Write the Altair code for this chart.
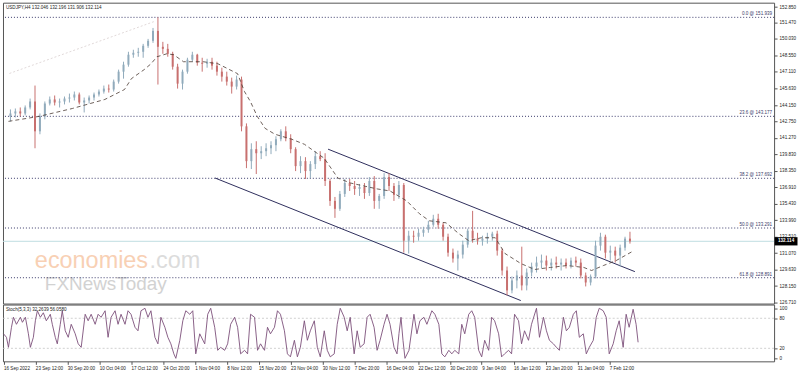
import altair as alt
import pandas as pd

FONT = "Liberation Sans"
TITLE = "USDJPY,H4 132.046 132.196 131.906 132.114"
STOCH_TITLE = "Stoch(5,3,3) 32.2639 56.0580"

# ---------------- price candles (5-bar groups of H4 bars) ----------------
opens = [143.17, 143.43, 143.61, 143.43, 143.96, 144.49, 141.85, 143.17, 144.31, 144.67,
         144.40, 144.49, 144.75, 144.84, 145.11, 144.40, 144.58, 144.84, 145.11, 145.37,
         145.63, 145.55, 146.25, 147.13, 147.75, 148.63, 148.80, 148.89, 149.42, 149.86,
         150.74, 149.33, 149.15, 148.71, 147.57, 146.07, 147.13, 148.19, 148.63, 147.92,
         147.83, 148.01, 147.66, 147.13, 146.69, 146.25, 145.81, 146.43, 142.29, 139.21,
         140.27, 139.91, 140.09, 140.35, 140.62, 141.15, 141.85, 141.23, 140.27, 138.77,
         139.21, 138.33, 138.95, 139.65, 139.39, 137.45, 135.69, 134.99, 136.31, 137.27,
         137.01, 136.75, 136.92, 136.39, 137.45, 135.69, 136.13, 137.80, 137.01, 136.22,
         137.10, 132.17, 132.61, 132.52, 132.87, 133.14, 133.58, 134.11, 133.58, 132.52,
         131.11, 130.59, 130.94, 131.82, 133.05, 132.35, 132.17, 132.35, 132.52, 132.79,
         131.29, 129.53, 127.77, 128.65, 129.09, 128.21, 129.35, 129.88, 130.23, 130.41,
         129.97, 130.23, 130.06, 130.23, 129.97, 130.41, 130.23, 129.09, 128.47, 129.00,
         131.73, 132.52, 131.11, 131.29, 130.85, 131.55, 132.35]
highs = [143.79, 143.87, 143.96, 144.14, 144.75, 145.90, 143.43, 144.49, 144.93, 145.02,
         144.75, 144.93, 145.19, 145.37, 145.28, 144.84, 145.02, 145.28, 145.55, 145.90,
         145.99, 146.43, 147.31, 148.01, 148.89, 149.07, 149.24, 149.59, 150.03, 151.00,
         151.94, 149.77, 149.59, 148.89, 147.83, 147.31, 148.36, 148.89, 148.71, 148.36,
         148.27, 148.36, 148.01, 147.48, 147.13, 146.60, 146.78, 146.69, 142.55, 140.79,
         140.97, 140.53, 140.79, 140.97, 141.41, 142.03, 142.29, 141.59, 140.44, 139.65,
         139.56, 139.21, 140.09, 140.09, 139.91, 137.63, 136.04, 136.57, 137.63, 137.63,
         137.45, 137.19, 137.27, 137.80, 137.89, 136.31, 138.15, 138.15, 137.27, 137.45,
         137.27, 133.05, 133.05, 133.23, 133.40, 133.93, 134.46, 134.55, 133.75, 132.79,
         131.47, 131.29, 132.17, 133.23, 134.81, 132.87, 132.61, 132.87, 132.96, 133.05,
         131.47, 129.88, 129.00, 129.53, 131.64, 129.71, 130.23, 130.76, 130.94, 130.85,
         130.59, 130.76, 130.59, 130.59, 130.67, 130.76, 130.59, 129.35, 129.18, 132.17,
         132.87, 132.70, 131.73, 131.64, 131.82, 132.52, 132.96]
lows = [142.73, 143.08, 143.17, 143.26, 143.79, 140.35, 141.59, 142.91, 144.14, 144.14,
        143.96, 144.23, 144.40, 144.58, 144.23, 143.52, 144.31, 144.58, 144.93, 145.19,
        145.28, 145.37, 146.07, 146.51, 147.57, 148.36, 148.45, 148.36, 149.24, 149.68,
        145.99, 148.71, 148.45, 147.31, 145.63, 145.55, 146.95, 148.01, 147.66, 147.13,
        147.48, 147.31, 146.78, 146.25, 145.90, 145.19, 145.55, 141.85, 138.59, 138.51,
        138.07, 139.39, 139.65, 139.83, 140.09, 140.97, 140.97, 139.91, 138.33, 138.15,
        137.63, 137.71, 138.51, 139.21, 137.01, 135.25, 134.19, 134.81, 136.04, 136.57,
        136.22, 136.13, 135.87, 136.13, 134.99, 134.99, 135.87, 136.57, 135.69, 135.87,
        131.11, 131.03, 131.99, 132.17, 132.52, 132.87, 133.40, 133.23, 132.17, 130.76,
        130.23, 129.53, 130.59, 131.55, 131.99, 131.82, 131.73, 131.91, 132.17, 130.85,
        129.09, 127.33, 127.51, 127.95, 127.77, 127.77, 129.00, 129.35, 129.71, 129.53,
        129.53, 129.71, 129.53, 129.71, 129.71, 129.88, 128.83, 128.12, 128.21, 128.83,
        131.29, 130.59, 130.41, 130.23, 129.88, 131.29, 131.91]
closes = [143.43, 143.61, 143.43, 143.96, 144.49, 141.85, 143.17, 144.31, 144.67, 144.40,
          144.49, 144.75, 144.84, 145.11, 144.40, 144.58, 144.84, 145.11, 145.37, 145.63,
          145.55, 146.25, 147.13, 147.75, 148.63, 148.80, 148.89, 149.42, 149.86, 150.74,
          149.33, 149.15, 148.71, 147.57, 146.07, 147.13, 148.19, 148.63, 147.92, 147.83,
          148.01, 147.66, 147.13, 146.69, 146.25, 145.81, 146.43, 142.29, 139.21, 140.27,
          139.91, 140.09, 140.35, 140.62, 141.15, 141.85, 141.23, 140.27, 138.77, 139.21,
          138.33, 138.95, 139.65, 139.39, 137.45, 135.69, 134.99, 136.31, 137.27, 137.01,
          136.75, 136.92, 136.39, 137.45, 135.69, 136.13, 137.80, 137.01, 136.22, 137.10,
          132.17, 132.61, 132.52, 132.87, 133.14, 133.58, 134.11, 133.58, 132.52, 131.11,
          130.59, 130.94, 131.82, 133.05, 132.35, 132.17, 132.35, 132.52, 132.79, 131.29,
          129.53, 127.77, 128.65, 129.09, 128.21, 129.35, 129.88, 130.23, 130.41, 129.97,
          130.23, 130.06, 130.23, 129.97, 130.41, 130.23, 129.09, 128.47, 129.00, 131.73,
          132.52, 131.11, 131.29, 130.85, 131.55, 132.35, 132.11]
GROUP = 5  # H4 bars per drawn candle

# moving average (dashed), read at bar positions
ma_points = [(0, 142.73), (31, 143.17), (65, 143.87), (98, 144.67), (118, 145.55), (125, 146.51),
             (138, 147.31), (145, 147.83), (151, 148.45), (161, 148.71), (168, 148.63), (178, 148.01),
             (198, 148.01), (213, 147.83), (233, 146.95), (240, 145.37), (246, 144.49), (253, 143.17),
             (261, 142.11), (271, 141.59), (288, 141.15), (301, 140.70), (321, 139.47), (335, 137.71),
             (348, 137.27), (375, 136.75), (388, 136.57), (405, 135.69), (418, 134.55), (428, 133.93),
             (445, 133.75), (458, 132.79), (468, 132.17), (481, 132.43), (495, 132.43), (505, 131.03),
             (521, 130.15), (535, 129.62), (551, 129.80), (568, 129.97), (585, 129.80), (593, 129.53),
             (605, 129.97), (618, 130.41), (636, 131.29)]

# channel lines and faint trend line: (bar, price) end points
channel_upper = [(325, 140.27), (637, 129.43)]
channel_lower = [(210, 137.72), (521, 126.87)]
faint_line = [(1, 146.97), (148, 151.56)]

fib_names = ["0.0", "23.6", "38.2", "50.0", "61.8"]
fib_levels = [151.939, 143.177, 137.692, 133.291, 128.891]
last_price = 132.114

price_ticks = [152.850, 151.470, 150.030, 148.550, 147.110, 145.630, 144.150, 142.750, 141.270,
               139.830, 138.350, 136.910, 135.430, 133.990, 132.510, 131.070, 129.630, 128.150, 126.710]

date_labels = ["16 Sep 2022", "23 Sep 12:00", "30 Sep 20:00", "10 Oct 04:00", "17 Oct 12:00",
               "24 Oct 20:00", "1 Nov 04:00", "8 Nov 12:00", "15 Nov 20:00", "23 Nov 04:00",
               "30 Nov 12:00", "7 Dec 20:00", "16 Dec 04:00", "22 Dec 12:00", "30 Dec 20:00",
               "9 Jan 04:00", "16 Jan 12:00", "23 Jan 20:00", "31 Jan 04:00", "7 Feb 12:00"]
DATE_STEP = 32  # bars between date labels

# stochastic %K read at bar positions
stoch_points = [(0, 49), (3, 42), (5, 22), (8, 62), (10, 82), (13, 68), (17, 82), (19, 72), (22, 82), (25, 49),
                (27, 22), (30, 42), (32, 75), (34, 95), (37, 82), (40, 91), (43, 75), (47, 88), (49, 68), (52, 42),
                (54, 29), (57, 68), (59, 95), (62, 55), (65, 42), (68, 68), (72, 49), (75, 29), (78, 22), (82, 88),
                (85, 75), (88, 88), (92, 68), (95, 88), (98, 82), (102, 95), (105, 42), (108, 82), (112, 95), (115, 68),
                (118, 88), (122, 68), (125, 95), (128, 88), (132, 62), (135, 55), (138, 95), (142, 100), (145, 82), (148, 95),
                (152, 42), (155, 29), (158, 82), (162, 62), (165, 42), (168, 29), (171, 9), (173, 0), (177, 36), (180, 75),
                (183, 95), (187, 88), (190, 95), (193, 9), (197, 49), (202, 29), (205, 88), (208, 100), (212, 62), (215, 16),
                (218, 22), (222, 16), (225, 29), (228, 68), (232, 82), (235, 62), (238, 9), (242, 16), (245, 9), (248, 88),
                (252, 82), (255, 16), (258, 29), (262, 16), (265, 62), (268, 49), (272, 62), (275, 95), (278, 88), (282, 55),
                (285, 9), (288, 3), (292, 36), (295, 3), (298, 22), (302, 75), (305, 36), (308, 55), (312, 75), (315, 22),
                (318, 3), (322, 55), (325, 16), (328, 3), (332, 9), (335, 68), (338, 100), (342, 82), (345, 55), (348, 82),
                (352, 9), (355, 55), (358, 22), (362, 29), (365, 82), (368, 88), (372, 62), (375, 16), (378, 36), (382, 68),
                (385, 88), (388, 68), (392, 22), (395, 9), (397, 50), (399, 82), (401, 36), (403, 0), (407, 16), (412, 88),
                (415, 49), (418, 75), (422, 82), (425, 68), (430, 95), (433, 88), (437, 68), (440, 9), (443, 3), (447, 16),
                (450, 9), (453, 16), (457, 9), (460, 68), (463, 49), (467, 88), (470, 95), (473, 82), (477, 16), (480, 3),
                (483, 36), (487, 16), (490, 82), (493, 75), (497, 49), (500, 3), (503, 9), (507, 16), (510, 9), (513, 88),
                (517, 75), (520, 29), (523, 55), (527, 36), (530, 68), (535, 100), (538, 42), (542, 82), (545, 55), (548, 36),
                (552, 29), (555, 22), (558, 16), (562, 82), (565, 55), (568, 62), (572, 88), (575, 95), (578, 42), (582, 49),
                (585, 9), (588, 22), (592, 36), (595, 82), (598, 100), (602, 95), (605, 82), (608, 9), (612, 29), (615, 55),
                (618, 75), (622, 22), (625, 88), (628, 62), (632, 98), (635, 68), (637, 32)]
stoch_levels = [80, 20]
stoch_ticks = [100, 80, 20, 0]

# ---------------- styles ----------------
BULL = "#91abbc"
BEAR = "#c8706f"
FIB_COL = "#3a3a6a"
W_MAIN, H_MAIN, H_STOCH = 774, 302, 57
xs = alt.Scale(domain=[-0.5, W_MAIN - 0.5], nice=False, zero=False)
ys = alt.Scale(domain=[126.604, 153.235], nice=False, zero=False)
ss = alt.Scale(domain=[-6, 107.4], nice=False, zero=False)

cdf = pd.DataFrame({"open": opens, "high": highs, "low": lows, "close": closes})
cdf["bar"] = [GROUP * i + (GROUP - 1) / 2 for i in range(len(cdf))]
cdf["dir"] = ["up" if c >= o else "down" for o, c in zip(opens, closes)]

X = alt.X("bar:Q", scale=xs, axis=None)
right_axis = alt.Axis(orient="right", values=price_ticks, format=".3f", labelFontSize=4.6,
                      labelFont=FONT, labelColor="#222", tickColor="#555", tickSize=3,
                      labelPadding=2, domain=False, grid=False, title=None,
                      labelOverlap=False, labelFlush=False, labelBound=False)
col = alt.Color("dir:N", scale=alt.Scale(domain=["up", "down"], range=[BULL, BEAR]), legend=None)

def Yp(field):
    return alt.Y(field, scale=ys, axis=right_axis)

wm = pd.DataFrame({"t": ["x"]})
water1 = alt.Chart(wm).mark_text(text="economies", font=FONT, fontSize=23.5, color="#f8d0b4",
                                 align="left", baseline="alphabetic").encode(x=alt.value(32), y=alt.value(266))
water2 = alt.Chart(wm).mark_text(text=".com", font=FONT, fontSize=23.5, color="#dcdcdc",
                                 align="left", baseline="alphabetic").encode(x=alt.value(147), y=alt.value(266))
water3 = alt.Chart(wm).mark_text(text="FXNewsToday", font=FONT, fontSize=19, color="#d2d2d2",
                                 align="left", baseline="alphabetic").encode(x=alt.value(42), y=alt.value(288))

fdf = pd.DataFrame({"level": fib_levels,
                    "label": [f"{n} @ {v:.3f}" for n, v in zip(fib_names, fib_levels)]})
fib_rules = alt.Chart(fdf).mark_rule(color=FIB_COL, strokeDash=[1, 2], strokeWidth=1).encode(
    y=Yp("level:Q"))
fib_text = alt.Chart(fdf).mark_text(align="right", baseline="bottom", dy=-1, fontSize=4.6,
                                    font=FONT, color=FIB_COL).encode(
    x=alt.value(W_MAIN - 2), y=Yp("level:Q"), text="label:N")

ldf = pd.DataFrame({"p": [last_price], "t": [f"{last_price:.3f}"]})
last_rule = alt.Chart(ldf).mark_rule(color="#bfdde1", strokeWidth=1).encode(y=Yp("p:Q"))
last_box = alt.Chart(ldf).mark_point(shape="M-1,-0.36L1,-0.36L1,0.36L-1,0.36Z", filled=True,
                                     color="#000", opacity=1, size=23 * 23).encode(
    x=alt.value(W_MAIN + 12), y=Yp("p:Q"))
last_text = alt.Chart(ldf).mark_text(color="#fff", fontSize=4.6, font=FONT, fontWeight="bold").encode(
    x=alt.value(W_MAIN + 12), y=Yp("p:Q"), text="t:N")

faint = alt.Chart(pd.DataFrame(faint_line, columns=["bar", "p"])).mark_line(
    color="#d9cfcf", strokeDash=[2, 2], strokeWidth=0.8).encode(x=X, y=Yp("p:Q"))

ch = pd.DataFrame(channel_upper + channel_lower, columns=["bar", "p"])
ch["which"] = ["u"] * len(channel_upper) + ["l"] * len(channel_lower)
channel = alt.Chart(ch).mark_line(color="#2e2e5c", strokeWidth=1).encode(
    x=X, y=Yp("p:Q"), detail="which:N")

wick = alt.Chart(cdf).mark_rule(strokeWidth=1).encode(x=X, y=Yp("low:Q"), y2="high:Q", color=col)
body = alt.Chart(cdf).mark_bar(size=2).encode(x=X, y=Yp("open:Q"), y2="close:Q", color=col)

ma = alt.Chart(pd.DataFrame(ma_points, columns=["bar", "p"])).mark_line(
    color="#4a3a32", strokeDash=[4, 3], strokeWidth=0.8).encode(x=X, y=Yp("p:Q"))

title = alt.Chart(wm).mark_text(text=TITLE, font=FONT, fontSize=4.6, color="#222",
                                align="left", baseline="top").encode(x=alt.value(3), y=alt.value(2))

main = alt.layer(water1, water2, water3, last_rule, fib_rules, fib_text, faint, channel, wick, body, ma,
                 title, last_box, last_text).properties(width=W_MAIN, height=H_MAIN)

# ---------------- stochastic panel ----------------
sdf = pd.DataFrame(stoch_points, columns=["bar", "k"])
label_expr = "[" + ",".join(f"'{s}'" for s in date_labels) + f"][round(datum.value/{DATE_STEP})]"
bottom_axis = alt.Axis(orient="bottom", values=[DATE_STEP * i for i in range(len(date_labels))],
                       labelExpr=label_expr, labelAlign="left", labelBaseline="top", labelFontSize=4.6,
                       labelFont=FONT, labelColor="#222", tickColor="#555", tickSize=3, labelPadding=1,
                       domain=False, grid=False, title=None, labelOverlap=False, labelFlush=False,
                       labelBound=False)
s_axis = alt.Axis(orient="right", values=stoch_ticks, format="d", labelFontSize=4.6, labelFont=FONT,
                  labelColor="#222", tickColor="#555", tickSize=3, labelPadding=2, domain=False,
                  grid=False, title=None, labelOverlap=False, labelFlush=False, labelBound=False)
s_levels = alt.Chart(pd.DataFrame({"v": stoch_levels})).mark_rule(
    color="#c4c4c4", strokeDash=[2, 2], strokeWidth=0.8).encode(y=alt.Y("v:Q", scale=ss, axis=s_axis))
s_line = alt.Chart(sdf).mark_line(color="#7c4f7a", strokeWidth=0.9).encode(
    x=alt.X("bar:Q", scale=xs, axis=bottom_axis), y=alt.Y("k:Q", scale=ss, axis=s_axis))
s_title = alt.Chart(wm).mark_text(text=STOCH_TITLE, font=FONT, fontSize=4.6, color="#222",
                                  align="left", baseline="middle").encode(x=alt.value(3), y=alt.value(5))
stoch = alt.layer(s_levels, s_line, s_title).properties(width=W_MAIN, height=H_STOCH)

chart = alt.vconcat(main, stoch, spacing=1, bounds="flush").properties(
    padding={"left": 1, "top": 1, "right": 0, "bottom": 0},
    background="#ffffff",
).configure_view(stroke="#555555", strokeWidth=1).configure_axis(
    labelOverlap=False, labelFlush=False, labelBound=False)

chart.save("out.html", embed_options={"renderer": "svg", "actions": False})
